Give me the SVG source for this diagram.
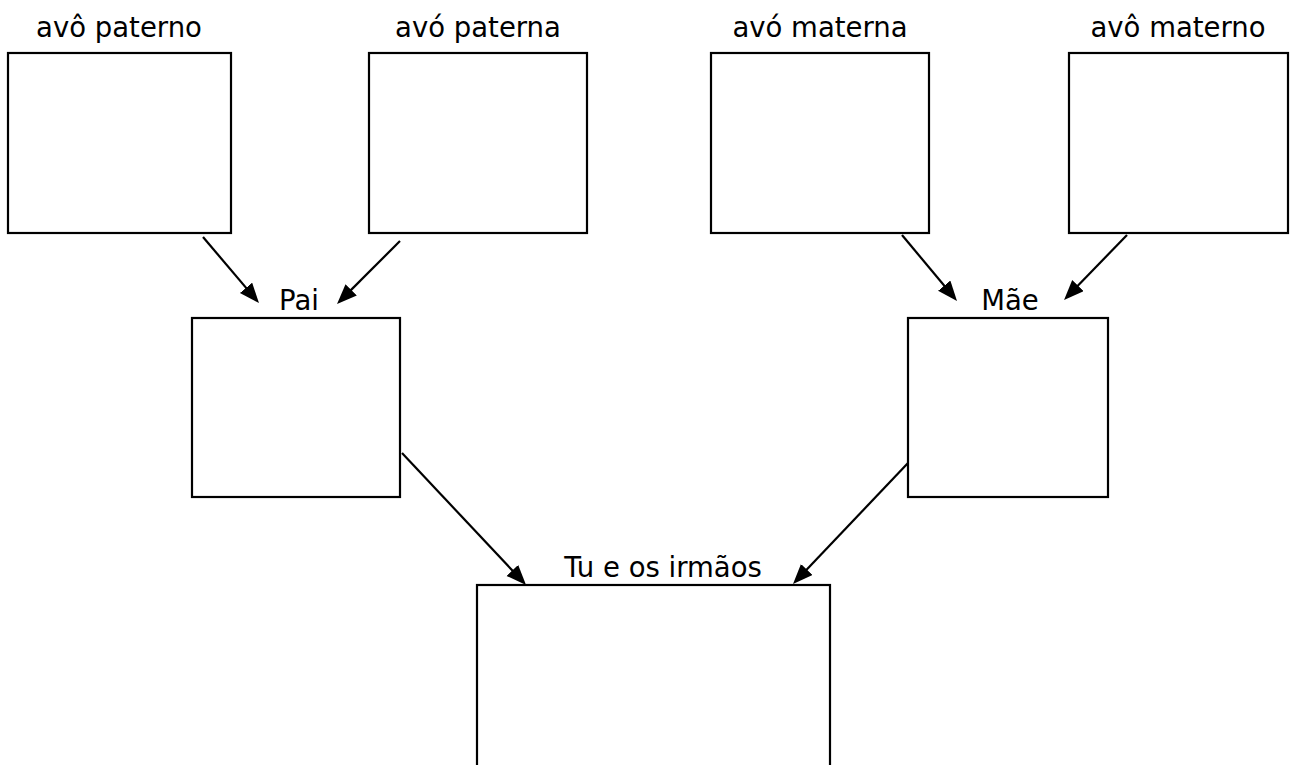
<svg xmlns="http://www.w3.org/2000/svg" width="1298" height="765" viewBox="0 0 1298 765">
<defs>
<style>
.box{fill:#fff;stroke:#000;stroke-width:2.2}
.lbl{font-family:"DejaVu Sans","Verdana",sans-serif;font-size:27.5px;fill:#000;text-anchor:middle}
.con{stroke:#000;stroke-width:2.2;fill:none}
</style>
<marker id="ah" markerUnits="userSpaceOnUse" markerWidth="22" markerHeight="18" refX="10" refY="8" orient="auto" viewBox="0 0 22 18">
<path d="M0,0 L20,8 L0,16 z" fill="#000"/>
</marker>
</defs>
<rect width="1298" height="765" fill="#fff"/>
<g id="avo-paterno"><rect class="box" x="8" y="53" width="223" height="180"/><text class="lbl" x="119" y="37">avô paterno</text></g>
<g id="avo-paterna"><rect class="box" x="369" y="53" width="218" height="180"/><text class="lbl" x="478" y="37">avó paterna</text></g>
<g id="avo-materna"><rect class="box" x="711" y="53" width="218" height="180"/><text class="lbl" x="820" y="37">avó materna</text></g>
<g id="avo-materno"><rect class="box" x="1069" y="53" width="219" height="180"/><text class="lbl" x="1178" y="37">avô materno</text></g>
<g id="pai"><rect class="box" x="192" y="318" width="208" height="179"/><text class="lbl" x="299" y="310">Pai</text></g>
<g id="mae"><rect class="box" x="908" y="318" width="200" height="179"/><text class="lbl" x="1010" y="310">Mãe</text></g>
<g id="tu"><rect class="box" x="477" y="585" width="353" height="200"/><text class="lbl" x="663" y="577">Tu e os irmãos</text></g>
<g id="connectors">
<line class="con" x1="203" y1="237" x2="252.5" y2="295.4" marker-end="url(#ah)"/>
<line class="con" x1="400" y1="241" x2="344.1" y2="296.9" marker-end="url(#ah)"/>
<line class="con" x1="902" y1="235" x2="950.6" y2="293.3" marker-end="url(#ah)"/>
<line class="con" x1="1127" y1="235" x2="1071" y2="292.8" marker-end="url(#ah)"/>
<line class="con" x1="402" y1="453" x2="519.2" y2="577.7" marker-end="url(#ah)"/>
<line class="con" x1="908" y1="463" x2="799.9" y2="576.8" marker-end="url(#ah)"/>
</g>
</svg>
